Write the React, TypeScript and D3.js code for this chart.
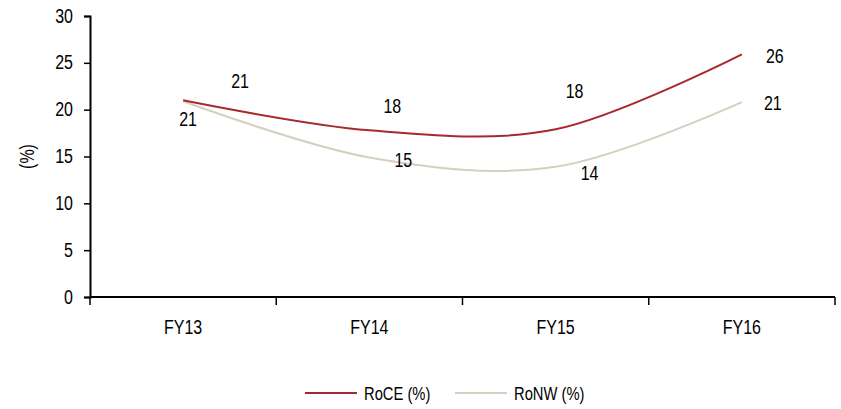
import { useEffect, useRef } from 'react';
import * as d3 from 'd3';

// Data
const categories = ['FY13', 'FY14', 'FY15', 'FY16'];
const roce = [21.0, 17.8, 17.9, 25.9];
const ronw = [20.9, 14.9, 13.9, 20.8];
const roceLabels = ['21', '18', '18', '26'];
const ronwLabels = ['21', '15', '14', '21'];
const yTicks = [0, 5, 10, 15, 20, 25, 30];
const seriesNames = ['RoCE (%)', 'RoNW (%)'];

const WIDTH = 841;
const HEIGHT = 409;
// condensed look: Arial-metric font squeezed horizontally
const FONT = '"Liberation Sans", Arial, sans-serif';
const SQUEEZE = 0.82;

const COLORS = {
  roce: '#a8292b',
  ronw: '#d3d0bf',
  axis: '#000000',
  text: '#000000',
};

// label offsets (px) from each point, placed by hand like the original
const roceOffsets = [[57, -19], [23, -24], [19, -38], [33, 2]];
const ronwOffsets = [[5, 18], [34, 3], [34, 7], [31, 1]];

export default function App() {
  const svgRef = useRef<SVGSVGElement>(null);

  useEffect(() => {
    if (!svgRef.current) return;
    const svg = d3.select(svgRef.current);
    svg.selectAll('*').remove();

    const label = (x: number, y: number, s: string, anchor = 'middle', size = 19.5, rotate = 0) =>
      svg.append('text')
        .attr('transform', `translate(${x},${y}) rotate(${rotate}) scale(${SQUEEZE},1)`)
        .attr('text-anchor', anchor)
        .attr('dominant-baseline', 'central')
        .attr('font-family', FONT)
        .attr('font-size', `${size}px`)
        .attr('fill', COLORS.text)
        .text(s);

    const margin = { left: 90, right: 6, top: 16, bottom: 112 };
    const x = d3.scaleBand()
      .domain(categories)
      .range([margin.left, WIDTH - margin.right]);
    const y = d3.scaleLinear()
      .domain([0, 30])
      .range([HEIGHT - margin.bottom, margin.top]);

    const cx = (c: string) => (x(c) ?? 0) + x.bandwidth() / 2;

    // Y axis
    const yAxis = svg.append('g')
      .attr('transform', `translate(${margin.left},0)`)
      .call(d3.axisLeft(y).tickValues(yTicks).tickSize(6).tickFormat(() => ''));
    yAxis.select('.domain').attr('stroke', COLORS.axis).attr('stroke-width', 2);
    yAxis.selectAll('.tick line').attr('stroke', COLORS.axis).attr('stroke-width', 1.5);
    yTicks.forEach((t) => label(73, y(t), String(t), 'end'));

    // X axis with ticks between categories
    const x0 = y(0);
    svg.append('line')
      .attr('x1', margin.left)
      .attr('x2', WIDTH - margin.right)
      .attr('y1', x0)
      .attr('y2', x0)
      .attr('stroke', COLORS.axis)
      .attr('stroke-width', 2);
    const last = categories[categories.length - 1];
    const bounds = categories.map((c) => x(c) ?? 0).concat([(x(last) ?? 0) + x.bandwidth()]);
    bounds.forEach((b) => {
      svg.append('line')
        .attr('x1', b).attr('x2', b)
        .attr('y1', x0).attr('y2', x0 + 8)
        .attr('stroke', COLORS.axis)
        .attr('stroke-width', 1.5);
    });
    categories.forEach((c) => label(cx(c), x0 + 30, c));

    // Y axis title
    label(27, (y(0) + y(30)) / 2, '(%)', 'middle', 19.5, -90);

    const line = d3.line<number>()
      .x((_, i) => cx(categories[i]))
      .y((d) => y(d))
      .curve(d3.curveCatmullRom.alpha(0));

    svg.append('path')
      .datum(ronw)
      .attr('d', line)
      .attr('fill', 'none')
      .attr('stroke', COLORS.ronw)
      .attr('stroke-width', 2);

    svg.append('path')
      .datum(roce)
      .attr('d', line)
      .attr('fill', 'none')
      .attr('stroke', COLORS.roce)
      .attr('stroke-width', 2);

    // Data labels
    roce.forEach((v, i) => label(cx(categories[i]) + roceOffsets[i][0], y(v) + roceOffsets[i][1], roceLabels[i]));
    ronw.forEach((v, i) => label(cx(categories[i]) + ronwOffsets[i][0], y(v) + ronwOffsets[i][1], ronwLabels[i]));

    // Legend
    const legendX = [305, 455];
    const legendColors = [COLORS.roce, COLORS.ronw];
    const ly = 393;
    seriesNames.forEach((name, i) => {
      svg.append('line')
        .attr('x1', legendX[i]).attr('x2', legendX[i] + 52)
        .attr('y1', ly).attr('y2', ly)
        .attr('stroke', legendColors[i])
        .attr('stroke-width', 2);
      label(legendX[i] + 59, ly, name, 'start', 18);
    });
  }, []);

  return (
    <svg
      ref={svgRef}
      width={WIDTH}
      height={HEIGHT}
      style={{ position: 'fixed', left: 0, top: 0, background: '#fff' }}
    />
  );
}
